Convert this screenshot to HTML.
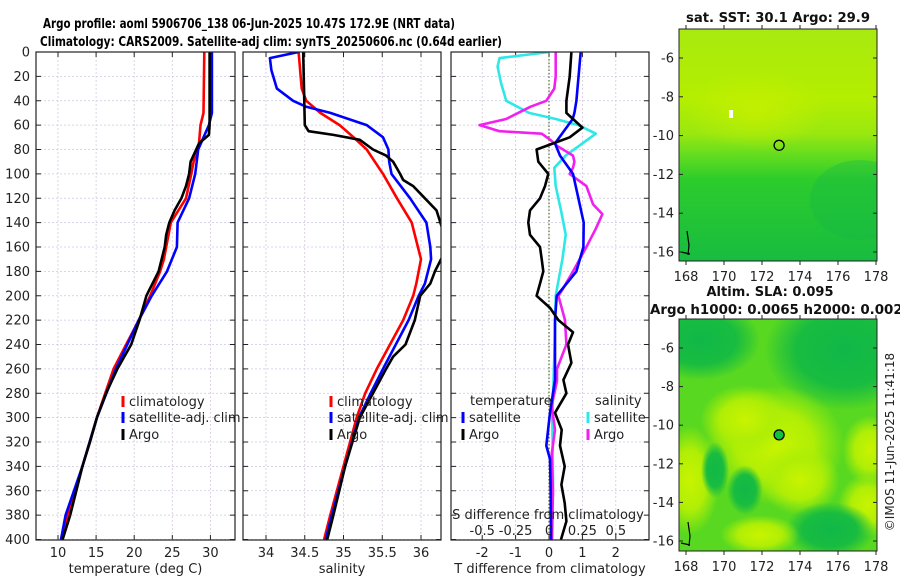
<!DOCTYPE html>
<html><head><meta charset="utf-8"><style>
html,body{margin:0;padding:0;background:#fff;}
svg{display:block;font-family:"DejaVu Sans","Liberation Sans",sans-serif;}
</style></head><body>
<svg id="c" width="900" height="580" viewBox="0 0 900 580">
<defs>
<linearGradient id="sstg" x1="0" y1="0" x2="0" y2="1">
<stop offset="0" stop-color="#a8ea10"/><stop offset="0.3" stop-color="#b4ee00"/><stop offset="0.45" stop-color="#9ae810"/><stop offset="0.55" stop-color="#60dc20"/><stop offset="0.65" stop-color="#2ccc2c"/><stop offset="1" stop-color="#18bc40"/>
</linearGradient>
<radialGradient id="slab" cx="0.5" cy="0.5" r="0.5"><stop offset="0" stop-color="#c8f400"/><stop offset="0.55" stop-color="#b0ee06"/><stop offset="1" stop-color="#a8ee08" stop-opacity="0"/></radialGradient>
<radialGradient id="slad" cx="0.5" cy="0.5" r="0.5"><stop offset="0" stop-color="#10b848"/><stop offset="0.6" stop-color="#18bc40"/><stop offset="1" stop-color="#10b848" stop-opacity="0"/></radialGradient>
<radialGradient id="sstw" cx="0.5" cy="0.5" r="0.5"><stop offset="0" stop-color="#c8f000"/><stop offset="1" stop-color="#c8f000" stop-opacity="0"/></radialGradient>
<clipPath id="cp1"><rect x="36" y="52" width="199" height="488"/></clipPath>
<clipPath id="cp2"><rect x="243" y="52" width="198" height="488"/></clipPath>
<clipPath id="cp3"><rect x="451" y="52" width="198" height="488"/></clipPath>
<clipPath id="cpm1"><rect x="679" y="29" width="198" height="232"/></clipPath>
<clipPath id="cpm2"><rect x="679" y="319" width="198" height="232"/></clipPath>
</defs>
<text x="249" y="28" text-anchor="middle" font-weight="bold" font-size="13" textLength="412" lengthAdjust="spacingAndGlyphs">Argo profile: aoml 5906706_138 06-Jun-2025 10.47S 172.9E (NRT data)</text>
<text x="271" y="46" text-anchor="middle" font-weight="bold" font-size="13" textLength="462" lengthAdjust="spacingAndGlyphs">Climatology: CARS2009. Satellite-adj clim: synTS_20250606.nc (0.64d earlier)</text>
<g id="g"></g>
</svg>
<script>
// ---------- data ----------
const depthTicks=[0,20,40,60,80,100,120,140,160,180,200,220,240,260,280,300,320,340,360,380,400];
const tTicks=[10,15,20,25,30];
const sTicks=[34,34.5,35,35.5,36];
const dTicks=[-2,-1,0,1,2];
const dsTicks=[-0.5,-0.25,0,0.25,0.5];
const dsTickLabels=["-0.5","-0.25","0","0.25","0.5"];

const tClimD=[0,50,60,75,90,100,120,140,170,180,200,220,260,300,340,380,400];
const tClimV=[29.2,29.1,28.7,28.5,27.8,27.5,26.8,24.8,23.9,23.4,22.1,20.6,17.3,15.1,13.2,11.3,10.4];
const tSatD=[0,50,60,80,100,120,140,160,180,200,220,260,300,340,380,400];
const tSatV=[30.2,30.2,29.8,28.4,28.0,27.2,25.7,25.6,24.3,22.3,20.6,17.6,15.1,13.2,11.0,10.4];
const tArgoD=[0,60,68,75,90,100,110,120,130,140,150,160,180,195,200,220,240,260,280,300,320,340,360,380,400];
const tArgoV=[29.9,29.9,29.8,28.5,27.4,27.2,26.8,26.2,25.3,24.6,24.2,24.0,23.2,22.0,21.6,20.7,19.6,17.8,16.3,15.1,14.2,13.2,12.4,11.6,10.6];

const sClimD=[0,30,40,50,60,70,80,100,120,140,170,190,200,220,260,280,300,340,380,400];
const sClimV=[34.42,34.46,34.52,34.70,34.95,35.13,35.30,35.51,35.69,35.88,36.0,35.94,35.9,35.77,35.43,35.28,35.17,35.0,34.83,34.75];
const sSatD=[0,5,15,30,40,45,50,60,70,80,90,100,120,140,160,170,190,200,220,260,280,300,340,380,400];
const sSatV=[34.42,34.05,34.07,34.14,34.35,34.52,34.83,35.30,35.51,35.58,35.59,35.62,35.86,36.07,36.12,36.13,36.05,35.97,35.84,35.51,35.35,35.2,35.02,34.85,34.77];
const sArgoD=[0,60,65,68,72,80,85,90,100,105,110,120,130,140,150,165,180,190,200,220,240,250,260,280,300,340,380,400];
const sArgoV=[34.48,34.50,34.55,34.87,35.21,35.38,35.55,35.64,35.73,35.77,35.9,36.05,36.2,36.25,36.3,36.3,36.18,36.12,35.99,35.92,35.8,35.64,35.55,35.38,35.21,35.02,34.87,34.79];

const dTSatD=[0,40,50,55,75,85,100,120,140,160,180,200,220,269,296,323,334,360,400];
const dTSatV=[0.95,0.82,0.76,0.71,0.18,0.33,0.72,0.88,1.04,1.03,0.82,0.23,0.18,0.18,0.03,-0.08,0.03,0.05,0.06];
const dTArgoD=[0,20,40,50,55,62,70,75,80,90,100,110,120,130,140,150,160,170,180,190,200,210,220,230,240,255,269,280,296,310,323,340,355,370,385,400];
const dTArgoV=[0.67,0.62,0.52,0.52,0.72,1.0,0.62,0.13,-0.37,-0.32,-0.02,-0.12,-0.27,-0.57,-0.62,-0.57,-0.27,-0.22,-0.17,-0.27,-0.37,0.03,0.28,0.72,0.57,0.67,0.43,0.52,0.18,0.38,0.33,0.47,0.37,0.47,0.52,0.36];
const dSSatD=[0,5,12,25,40,50,55,60,67,75,85,95,110,130,150,170,200,250,300,350,400];
const dSSatV=[0.002,-0.37,-0.385,-0.36,-0.32,-0.15,0.05,0.22,0.35,0.25,0.125,0.04,0.05,0.09,0.125,0.1,0.05,0.04,0.025,0.03,0.025];
const dSArgoD=[0,20,30,40,45,55,60,65,67,72,77,85,90,95,100,110,125,133,145,160,180,195,200,220,240,260,270,290,310,330,360,400];
const dSArgoV=[0.05,0.05,0.04,-0.02,-0.14,-0.32,-0.52,-0.37,-0.055,0.01,0.06,0.18,0.19,0.18,0.155,0.28,0.33,0.4,0.35,0.28,0.18,0.1,0.07,0.12,0.13,0.06,0.06,0.02,0.045,0.02,0.03,0.02];

const mapLonTicks=[168,170,172,174,176,178];
const mapLatTicks=[-6,-8,-10,-12,-14,-16];
const floatLon=172.9, floatLat=-10.5;

// ---------- helpers ----------
const NS="http://www.w3.org/2000/svg";
const G=document.getElementById('g');
function mk(tag,at,parent){const e=document.createElementNS(NS,tag);for(const k in at)e.setAttribute(k,at[k]);(parent||G).appendChild(e);return e;}
const yD=d=>52+d*1.2188;
const P1={x0:36,x1:235,sx:v=>58+(v-10)*7.62};
const P2={x0:243,x1:441,sx:v=>266+(v-34)*77.5};
const P3={x0:451,x1:649,sx:v=>549+v*33.4};
const sxS3=v=>549+v*4*33.4;

function panel(P,ticks,labels,name,xlabel,showY){
  ticks.forEach(t=>{const x=P.sx(t);
    const l=mk('line',{x1:x,x2:x,y1:52,y2:540,stroke:'#d6c6dc','stroke-width':0.8,'stroke-dasharray':'2,2'});
    
    const tk=mk('line',{x1:x,x2:x,y1:52,y2:57,stroke:'#222'});
    const tk2=mk('line',{x1:x,x2:x,y1:535,y2:540,stroke:'#222'});
  });
  depthTicks.forEach(d=>{const y=yD(d);
    const l=mk('line',{x1:P.x0,x2:P.x1,y1:y,y2:y,stroke:'#c8cae6','stroke-width':0.8,'stroke-dasharray':'2,2'});
    
    const a=mk('line',{x1:P.x0,x2:P.x0+5,y1:y,y2:y,stroke:'#222'});
    const b=mk('line',{x1:P.x1-5,x2:P.x1,y1:y,y2:y,stroke:'#222'});
    if(showY){const t=mk('text',{x:30,y:y+4.5,'text-anchor':'end','font-size':13,fill:'#222'});t.textContent=d;}
  });
  ticks.forEach((t,i)=>{const tx=mk('text',{x:P.sx(t),y:557,'text-anchor':'middle','font-size':13,fill:'#222'});tx.textContent=labels[i];});
  const xl=mk('text',{x:(P.x0+P.x1)/2,y:573,'text-anchor':'middle','font-size':13,fill:'#222'});xl.textContent=xlabel;
}
function frame(P,name){const r=mk('rect',{x:P.x0,y:52,width:P.x1-P.x0,height:488,fill:'none',stroke:'#222','stroke-width':1.2});}
function line(D,V,sx,color,clip,name,w){
  const pts=D.map((d,i)=>sx(V[i]).toFixed(1)+','+yD(d).toFixed(1)).join(' ');
  const p=mk('polyline',{points:pts,fill:'none',stroke:color,'stroke-width':w||2.6,'stroke-linejoin':'round','clip-path':'url(#'+clip+')'});
  
}
function legend(x,y,color,label,name){
  const m=mk('rect',{x:x-1.5,y:y-9,width:3,height:11,fill:color});
  const t=mk('text',{x:x+6,y:y+1,'font-size':13,fill:'#222'});t.textContent=label;
}

// ---------- panel 1 ----------
panel(P1,tTicks,tTicks.map(String),'temperature-panel','temperature (deg C)',true);
line(tClimD,tClimV,P1.sx,'#f00','cp1','temp-climatology-line');
line(tSatD,tSatV,P1.sx,'#00f','cp1','temp-satellite-line');
line(tArgoD,tArgoV,P1.sx,'#000','cp1','temp-argo-line');
frame(P1,'temperature-panel');
legend(123,405,'#f00','climatology','temp-legend-climatology');
legend(123,421,'#00f','satellite-adj. clim','temp-legend-satellite');
legend(123,438,'#000','Argo','temp-legend-argo');

// ---------- panel 2 ----------
panel(P2,sTicks,sTicks.map(String),'salinity-panel','salinity',false);
line(sClimD,sClimV,P2.sx,'#f00','cp2','sal-climatology-line');
line(sSatD,sSatV,P2.sx,'#00f','cp2','sal-satellite-line');
line(sArgoD,sArgoV,P2.sx,'#000','cp2','sal-argo-line');
frame(P2,'salinity-panel');
legend(331,405,'#f00','climatology','sal-legend-climatology');
legend(331,421,'#00f','satellite-adj. clim','sal-legend-satellite');
legend(331,438,'#000','Argo','sal-legend-argo');

// ---------- panel 3 ----------
panel(P3,dTicks,dTicks.map(String),'difference-panel','T difference from climatology',false);
{const z=mk('line',{x1:549,x2:549,y1:52,y2:540,stroke:'#556b2f','stroke-width':1.2,'stroke-dasharray':'1.5,2'});}
line(dSSatD,dSSatV,sxS3,'#2ee8e8','cp3','sal-diff-satellite-line');
line(dSArgoD,dSArgoV,sxS3,'#f020f0','cp3','sal-diff-argo-line');
line(dTSatD,dTSatV,P3.sx,'#00f','cp3','temp-diff-satellite-line');
line(dTArgoD,dTArgoV,P3.sx,'#000','cp3','temp-diff-argo-line');
frame(P3,'difference-panel');
{const t=mk('text',{x:470,y:405,'font-size':13,fill:'#222'});t.textContent='temperature';
 const s=mk('text',{x:595,y:405,'font-size':13,fill:'#222'});s.textContent='salinity';}
legend(463,421,'#00f','satellite','diff-legend-temp-satellite');
legend(463,438,'#000','Argo','diff-legend-temp-argo');
legend(588,421,'#2ee8e8','satellite','diff-legend-sal-satellite');
legend(588,438,'#f020f0','Argo','diff-legend-sal-argo');
{const t=mk('text',{x:548,y:519,'text-anchor':'middle','font-size':13,fill:'#222'});t.textContent='S difference from climatology';}
dsTicks.forEach((v,i)=>{const t=mk('text',{x:sxS3(v),y:535,'text-anchor':'middle','font-size':13,fill:'#222'});t.textContent=dsTickLabels[i];});

// ---------- maps ----------
const lonX=l=>686+(l-168)*19;
function mapAxes(y0,y1,latY,name){
  mapLatTicks.forEach(la=>{const y=latY(la);
    const t=mk('text',{x:674,y:y+4.5,'text-anchor':'end','font-size':13,fill:'#222'});t.textContent=la;
    const a=mk('line',{x1:679,x2:683,y1:y,y2:y,stroke:'#222'});
    const b=mk('line',{x1:873,x2:877,y1:y,y2:y,stroke:'#222'});
  });
  mapLonTicks.forEach(lo=>{const x=lonX(lo);
    const t=mk('text',{x:x,y:y1+20,'text-anchor':'middle','font-size':13,fill:'#222'});t.textContent=lo;
    const a=mk('line',{x1:x,x2:x,y1:y0-4,y2:y0,stroke:'#222'});
    const b=mk('line',{x1:x,x2:x,y1:y1,y2:y1+4,stroke:'#222'});
  });
}
// SST map
{const latY=la=>58+(-6-la)*19.4;
 const r=mk('rect',{x:679,y:29,width:198,height:232,fill:'url(#sstg)'});
 const e=mk('ellipse',{cx:755,cy:110,rx:70,ry:40,fill:'url(#sstw)',opacity:0.8,'clip-path':'url(#cpm1)'});
 const e2=mk('ellipse',{cx:860,cy:200,rx:50,ry:40,fill:'#14b848',opacity:0.35,'clip-path':'url(#cpm1)'});
 const w=mk('rect',{x:729,y:110,width:4,height:8,fill:'#fff'});
 const c=mk('circle',{cx:lonX(floatLon),cy:latY(floatLat),r:5,fill:'none',stroke:'#000','stroke-width':1.3});
 const i=mk('path',{d:'M687 231 L689 245 L688 255 M681 252 L690 254',stroke:'#000','stroke-width':1.2,fill:'none'});
 const f=mk('rect',{x:679,y:29,width:198,height:232,fill:'none',stroke:'#222'});
 mapAxes(29,261,latY,'sst-map');
 const t=mk('text',{x:778,y:22,'text-anchor':'middle','font-weight':'bold','font-size':13,fill:'#111',textLength:184,lengthAdjust:'spacingAndGlyphs'});t.textContent='sat. SST: 30.1 Argo: 29.9';
}
// SLA map
{const latY=la=>348+(-6-la)*19.3;
 const r=mk('rect',{x:679,y:319,width:198,height:232,fill:'#58d820'});
 const blobs=[[700,340,60,40,'url(#slad)'],[845,350,80,60,'url(#slad)'],[775,445,70,60,'url(#slab)'],[745,420,45,35,'url(#slab)'],[800,480,40,35,'url(#slab)'],[690,480,30,55,'url(#slab)'],[870,450,28,35,'url(#slab)'],[868,505,30,32,'url(#slab)'],[715,470,14,28,'url(#slad)'],[745,490,18,25,'url(#slad)'],[830,530,45,28,'url(#slad)'],[760,535,40,20,'url(#slab)']];
 blobs.forEach(b=>{const e=mk('ellipse',{cx:b[0],cy:b[1],rx:b[2],ry:b[3],fill:b[4],'clip-path':'url(#cpm2)'});});
 const c=mk('circle',{cx:lonX(floatLon),cy:latY(floatLat),r:5,fill:'#10c040',stroke:'#000','stroke-width':1.3});
 const i=mk('path',{d:'M688 522 L690 536 L689 546 M681 543 L690 545',stroke:'#000','stroke-width':1.2,fill:'none'});
 const f=mk('rect',{x:679,y:319,width:198,height:232,fill:'none',stroke:'#222'});
 mapAxes(319,551,latY,'sla-map');
 const t1=mk('text',{x:770,y:296,'text-anchor':'middle','font-weight':'bold','font-size':13,fill:'#111',textLength:127,lengthAdjust:'spacingAndGlyphs'});t1.textContent='Altim. SLA: 0.095';
 const t2=mk('text',{x:650,y:314,'font-weight':'bold','font-size':13,fill:'#111',textLength:262,lengthAdjust:'spacingAndGlyphs'});t2.textContent='Argo h1000: 0.0065 h2000: 0.0026';
}
{const t=mk('text',{x:0,y:0,'text-anchor':'middle','font-size':12,fill:'#222',transform:'translate(894,442) rotate(-90)'});t.textContent='©IMOS 11-Jun-2025 11:41:18';}
</script>
</body></html>
